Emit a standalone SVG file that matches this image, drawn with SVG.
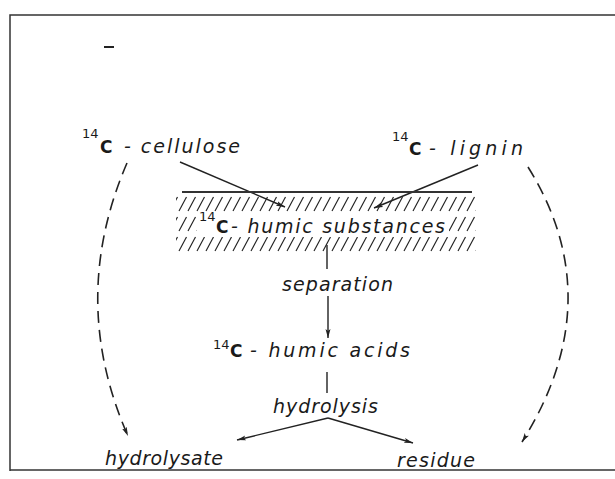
<svg xmlns="http://www.w3.org/2000/svg" width="615" height="479" viewBox="0 0 615 479">
  <style>
    .t { font-family: "DejaVu Sans", "Liberation Sans", sans-serif; font-size: 19px; font-style: italic; fill: #1a1a1a; }
    .c { font-style: normal; font-weight: bold; font-size: 17px; }
    .s { font-style: normal; font-size: 13px; }
    .ln { stroke: #222; stroke-width: 1.4; fill: none; }
    .ar { marker-end: url(#ah); }
    .dash { stroke-dasharray: 12 7; stroke-width: 1.6; }
    .frame { stroke: #333; stroke-width: 1.5; fill: none; }
  </style>
  <defs>
    <marker id="ah" markerWidth="10" markerHeight="6" refX="9" refY="3" orient="auto" markerUnits="userSpaceOnUse">
      <path d="M0,0.5 L9,3 L0,5.5 L2,3 Z" fill="#222"/>
    </marker>
    <pattern id="hatch" patternUnits="userSpaceOnUse" x="178" y="194" width="9" height="20">
      <line x1="1" y1="17" x2="8.5" y2="3" stroke="#222" stroke-width="1.2"/>
    </pattern>
  </defs>
  <rect width="615" height="479" fill="#ffffff"/>
  <g id="frame">
    <path class="frame" d="M10,471 L10,15 L615,15"/>
    <path class="frame" d="M10,470 L615,470"/>
    <line x1="104" y1="47" x2="114" y2="47" stroke="#222" stroke-width="2"/>
  </g>
  <g id="connectors">
    <path class="ln ar" d="M180,162 L285,207"/>
    <path class="ln ar" d="M478,165 L374,208"/>
    <path class="ln" d="M327,245 L327,269"/>
    <path class="ln ar" d="M328,296 L328,338"/>
    <path class="ln" d="M327,372 L327,393"/>
    <path class="ln ar" d="M328,418 L237,440"/>
    <path class="ln ar" d="M328,418 L413,443"/>
    <path class="ln dash ar" d="M127,163 Q68,300 128,436"/>
    <path class="ln dash ar" d="M528,167 Q611,300 522,442"/>
  </g>
  <g id="cellulose">
    <text class="t"><tspan class="s" x="82" y="138">14</tspan><tspan class="c" x="100" y="153">C</tspan><tspan x="124" y="153" textLength="116" lengthAdjust="spacing">- cellulose</tspan></text>
  </g>
  <g id="lignin">
    <text class="t"><tspan class="s" x="392" y="141">14</tspan><tspan class="c" x="409" y="155">C</tspan><tspan x="429" y="155" textLength="94" lengthAdjust="spacing">- lignin</tspan></text>
  </g>
  <g id="humic-substances">
    <line x1="182" y1="192" x2="472" y2="192" stroke="#333" stroke-width="2"/>
    <rect x="176" y="194" width="300" height="60" fill="url(#hatch)"/>
    <rect x="197" y="213" width="252" height="24" fill="#ffffff"/>
    <text class="t"><tspan class="s" x="199" y="221">14</tspan><tspan class="c" x="216" y="233">C</tspan><tspan x="231" y="233" textLength="214" lengthAdjust="spacing">- humic substances</tspan></text>
  </g>
  <g id="separation">
    <text class="t" x="282" y="291" textLength="111" lengthAdjust="spacing">separation</text>
  </g>
  <g id="humic-acids">
    <text class="t"><tspan class="s" x="213" y="349">14</tspan><tspan class="c" x="230" y="357">C</tspan><tspan x="250" y="357" textLength="160" lengthAdjust="spacing">- humic acids</tspan></text>
  </g>
  <g id="hydrolysis">
    <text class="t" x="273" y="413" textLength="105" lengthAdjust="spacing">hydrolysis</text>
  </g>
  <g id="hydrolysate">
    <text class="t" x="105" y="465" textLength="118" lengthAdjust="spacing">hydrolysate</text>
  </g>
  <g id="residue">
    <text class="t" x="397" y="467" textLength="78" lengthAdjust="spacing">residue</text>
  </g>
</svg>
